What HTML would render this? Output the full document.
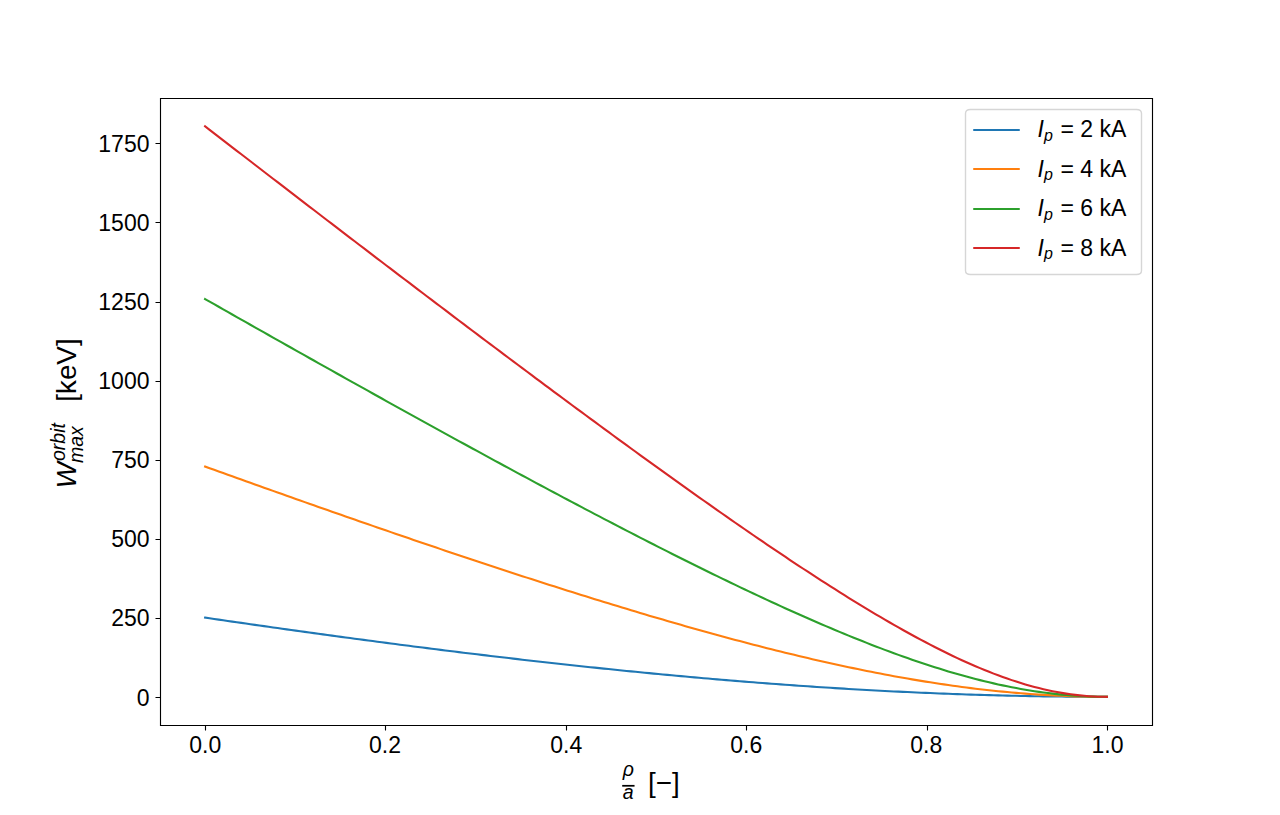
<!DOCTYPE html>
<html lang="en">
<head>
<meta charset="utf-8">
<title>W max orbit vs rho/a</title>
<style>
html,body{margin:0;padding:0;background:#fff}
body{width:1280px;height:815px;overflow:hidden;font-family:"Liberation Sans",sans-serif}
svg{display:block}
</style>
</head>
<body>
<svg width="1280" height="815" viewBox="0 0 1280 815" role="img" aria-label="Maximum orbit energy versus normalised radius for plasma currents of 2, 4, 6 and 8 kA">
<rect x="0" y="0" width="1280" height="815" fill="#fff"/>
<defs><clipPath id="axclip"><rect x="160" y="97.8" width="992" height="627.55"/></clipPath></defs>
<g clip-path="url(#axclip)" fill="none" stroke-width="2.083" stroke-linecap="square" stroke-linejoin="round">
<polyline stroke="#1f77b4" points="205.09,617.63 209.62,618.3 214.15,618.96 218.69,619.62 223.22,620.28 227.75,620.94 232.28,621.6 236.81,622.25 241.34,622.9 245.88,623.56 250.41,624.21 254.94,624.85 259.47,625.5 264,626.15 268.54,626.79 273.07,627.43 277.6,628.07 282.13,628.71 286.66,629.35 291.19,629.98 295.73,630.62 300.26,631.25 304.79,631.88 309.32,632.5 313.85,633.13 318.38,633.75 322.92,634.38 327.45,635 331.98,635.62 336.51,636.23 341.04,636.85 345.58,637.46 350.11,638.07 354.64,638.68 359.17,639.29 363.7,639.89 368.23,640.49 372.77,641.09 377.3,641.69 381.83,642.29 386.36,642.88 390.89,643.48 395.42,644.07 399.96,644.66 404.49,645.24 409.02,645.83 413.55,646.41 418.08,646.99 422.61,647.56 427.15,648.14 431.68,648.71 436.21,649.28 440.74,649.85 445.27,650.42 449.81,650.98 454.34,651.54 458.87,652.1 463.4,652.66 467.93,653.21 472.46,653.76 477,654.31 481.53,654.86 486.06,655.4 490.59,655.95 495.12,656.48 499.65,657.02 504.19,657.56 508.72,658.09 513.25,658.62 517.78,659.14 522.31,659.67 526.85,660.19 531.38,660.7 535.91,661.22 540.44,661.73 544.97,662.24 549.5,662.75 554.04,663.25 558.57,663.76 563.1,664.25 567.63,664.75 572.16,665.24 576.69,665.73 581.23,666.22 585.76,666.71 590.29,667.19 594.82,667.66 599.35,668.14 603.88,668.61 608.42,669.08 612.95,669.55 617.48,670.01 622.01,670.47 626.54,670.93 631.08,671.38 635.61,671.83 640.14,672.28 644.67,672.72 649.2,673.16 653.73,673.6 658.27,674.03 662.8,674.46 667.33,674.89 671.86,675.31 676.39,675.73 680.92,676.15 685.46,676.56 689.99,676.97 694.52,677.38 699.05,677.78 703.58,678.18 708.12,678.57 712.65,678.97 717.18,679.36 721.71,679.74 726.24,680.12 730.77,680.5 735.31,680.87 739.84,681.24 744.37,681.61 748.9,681.97 753.43,682.33 757.96,682.68 762.5,683.03 767.03,683.38 771.56,683.72 776.09,684.06 780.62,684.4 785.15,684.73 789.69,685.05 794.22,685.38 798.75,685.7 803.28,686.01 807.81,686.32 812.35,686.63 816.88,686.93 821.41,687.23 825.94,687.52 830.47,687.81 835,688.1 839.54,688.38 844.07,688.66 848.6,688.93 853.13,689.2 857.66,689.46 862.19,689.72 866.73,689.98 871.26,690.23 875.79,690.47 880.32,690.72 884.85,690.95 889.39,691.19 893.92,691.42 898.45,691.64 902.98,691.86 907.51,692.07 912.04,692.29 916.58,692.49 921.11,692.69 925.64,692.89 930.17,693.08 934.7,693.27 939.23,693.45 943.77,693.63 948.3,693.8 952.83,693.97 957.36,694.14 961.89,694.3 966.42,694.45 970.96,694.6 975.49,694.74 980.02,694.88 984.55,695.02 989.08,695.15 993.62,695.28 998.15,695.4 1002.68,695.51 1007.21,695.62 1011.74,695.73 1016.27,695.83 1020.81,695.93 1025.34,696.02 1029.87,696.11 1034.4,696.19 1038.93,696.27 1043.46,696.34 1048,696.4 1052.53,696.47 1057.06,696.52 1061.59,696.58 1066.12,696.62 1070.66,696.67 1075.19,696.7 1079.72,696.74 1084.25,696.76 1088.78,696.79 1093.31,696.8 1097.85,696.82 1102.38,696.82 1106.91,696.83"/>
<polyline stroke="#ff7f0e" points="205.09,466.53 209.62,468.17 214.15,469.8 218.69,471.43 223.22,473.06 227.75,474.69 232.28,476.31 236.81,477.94 241.34,479.56 245.88,481.18 250.41,482.81 254.94,484.42 259.47,486.04 264,487.66 268.54,489.27 273.07,490.88 277.6,492.49 282.13,494.1 286.66,495.71 291.19,497.31 295.73,498.92 300.26,500.52 304.79,502.12 309.32,503.72 313.85,505.31 318.38,506.91 322.92,508.5 327.45,510.09 331.98,511.68 336.51,513.26 341.04,514.85 345.58,516.43 350.11,518.01 354.64,519.59 359.17,521.17 363.7,522.74 368.23,524.31 372.77,525.88 377.3,527.45 381.83,529.01 386.36,530.57 390.89,532.13 395.42,533.69 399.96,535.24 404.49,536.8 409.02,538.35 413.55,539.89 418.08,541.44 422.61,542.98 427.15,544.52 431.68,546.06 436.21,547.59 440.74,549.12 445.27,550.65 449.81,552.18 454.34,553.7 458.87,555.22 463.4,556.73 467.93,558.25 472.46,559.76 477,561.27 481.53,562.77 486.06,564.27 490.59,565.77 495.12,567.26 499.65,568.75 504.19,570.24 508.72,571.72 513.25,573.2 517.78,574.68 522.31,576.15 526.85,577.62 531.38,579.09 535.91,580.55 540.44,582.01 544.97,583.46 549.5,584.91 554.04,586.36 558.57,587.8 563.1,589.23 567.63,590.67 572.16,592.09 576.69,593.52 581.23,594.94 585.76,596.35 590.29,597.76 594.82,599.17 599.35,600.57 603.88,601.96 608.42,603.35 612.95,604.74 617.48,606.12 622.01,607.5 626.54,608.87 631.08,610.23 635.61,611.59 640.14,612.94 644.67,614.29 649.2,615.63 653.73,616.97 658.27,618.3 662.8,619.62 667.33,620.94 671.86,622.25 676.39,623.56 680.92,624.85 685.46,626.15 689.99,627.43 694.52,628.71 699.05,629.98 703.58,631.25 708.12,632.5 712.65,633.75 717.18,635 721.71,636.23 726.24,637.46 730.77,638.68 735.31,639.89 739.84,641.09 744.37,642.29 748.9,643.48 753.43,644.66 757.96,645.83 762.5,646.99 767.03,648.14 771.56,649.28 776.09,650.42 780.62,651.54 785.15,652.66 789.69,653.76 794.22,654.86 798.75,655.95 803.28,657.02 807.81,658.09 812.35,659.14 816.88,660.19 821.41,661.22 825.94,662.24 830.47,663.25 835,664.25 839.54,665.24 844.07,666.22 848.6,667.19 853.13,668.14 857.66,669.08 862.19,670.01 866.73,670.93 871.26,671.83 875.79,672.72 880.32,673.6 884.85,674.46 889.39,675.31 893.92,676.15 898.45,676.97 902.98,677.78 907.51,678.57 912.04,679.36 916.58,680.12 921.11,680.87 925.64,681.61 930.17,682.33 934.7,683.03 939.23,683.72 943.77,684.4 948.3,685.05 952.83,685.7 957.36,686.32 961.89,686.93 966.42,687.52 970.96,688.1 975.49,688.66 980.02,689.2 984.55,689.72 989.08,690.23 993.62,690.72 998.15,691.19 1002.68,691.64 1007.21,692.07 1011.74,692.49 1016.27,692.89 1020.81,693.27 1025.34,693.63 1029.87,693.97 1034.4,694.3 1038.93,694.6 1043.46,694.88 1048,695.15 1052.53,695.4 1057.06,695.62 1061.59,695.83 1066.12,696.02 1070.66,696.19 1075.19,696.34 1079.72,696.47 1084.25,696.58 1088.78,696.67 1093.31,696.74 1097.85,696.79 1102.38,696.82 1106.91,696.83"/>
<polyline stroke="#2ca02c" points="205.09,299.04 209.62,301.62 214.15,304.19 218.69,306.77 223.22,309.34 227.75,311.91 232.28,314.48 236.81,317.05 241.34,319.62 245.88,322.18 250.41,324.75 254.94,327.31 259.47,329.88 264,332.44 268.54,335 273.07,337.56 277.6,340.12 282.13,342.67 286.66,345.23 291.19,347.78 295.73,350.33 300.26,352.88 304.79,355.43 309.32,357.98 313.85,360.53 318.38,363.07 322.92,365.61 327.45,368.15 331.98,370.69 336.51,373.23 341.04,375.77 345.58,378.3 350.11,380.84 354.64,383.37 359.17,385.9 363.7,388.43 368.23,390.95 372.77,393.48 377.3,396 381.83,398.52 386.36,401.04 390.89,403.56 395.42,406.07 399.96,408.58 404.49,411.09 409.02,413.6 413.55,416.11 418.08,418.61 422.61,421.11 427.15,423.61 431.68,426.11 436.21,428.6 440.74,431.1 445.27,433.59 449.81,436.07 454.34,438.56 458.87,441.04 463.4,443.52 467.93,446 472.46,448.47 477,450.95 481.53,453.41 486.06,455.88 490.59,458.34 495.12,460.8 499.65,463.26 504.19,465.72 508.72,468.17 513.25,470.62 517.78,473.06 522.31,475.5 526.85,477.94 531.38,480.37 535.91,482.81 540.44,485.23 544.97,487.66 549.5,490.08 554.04,492.49 558.57,494.91 563.1,497.31 567.63,499.72 572.16,502.12 576.69,504.52 581.23,506.91 585.76,509.3 590.29,511.68 594.82,514.06 599.35,516.43 603.88,518.8 608.42,521.17 612.95,523.52 617.48,525.88 622.01,528.23 626.54,530.57 631.08,532.91 635.61,535.24 640.14,537.57 644.67,539.89 649.2,542.21 653.73,544.52 658.27,546.82 662.8,549.12 667.33,551.41 671.86,553.7 676.39,555.98 680.92,558.25 685.46,560.51 689.99,562.77 694.52,565.02 699.05,567.26 703.58,569.5 708.12,571.72 712.65,573.94 717.18,576.15 721.71,578.36 726.24,580.55 730.77,582.73 735.31,584.91 739.84,587.08 744.37,589.23 748.9,591.38 753.43,593.52 757.96,595.65 762.5,597.76 767.03,599.87 771.56,601.96 776.09,604.05 780.62,606.12 785.15,608.18 789.69,610.23 794.22,612.27 798.75,614.29 803.28,616.3 807.81,618.3 812.35,620.28 816.88,622.25 821.41,624.21 825.94,626.15 830.47,628.07 835,629.98 839.54,631.88 844.07,633.75 848.6,635.62 853.13,637.46 857.66,639.29 862.19,641.09 866.73,642.88 871.26,644.66 875.79,646.41 880.32,648.14 884.85,649.85 889.39,651.54 893.92,653.21 898.45,654.86 902.98,656.48 907.51,658.09 912.04,659.67 916.58,661.22 921.11,662.75 925.64,664.25 930.17,665.73 934.7,667.19 939.23,668.61 943.77,670.01 948.3,671.38 952.83,672.72 957.36,674.03 961.89,675.31 966.42,676.56 970.96,677.78 975.49,678.97 980.02,680.12 984.55,681.24 989.08,682.33 993.62,683.38 998.15,684.4 1002.68,685.38 1007.21,686.32 1011.74,687.23 1016.27,688.1 1020.81,688.93 1025.34,689.72 1029.87,690.47 1034.4,691.19 1038.93,691.86 1043.46,692.49 1048,693.08 1052.53,693.63 1057.06,694.14 1061.59,694.6 1066.12,695.02 1070.66,695.4 1075.19,695.73 1079.72,696.02 1084.25,696.27 1088.78,696.47 1093.31,696.62 1097.85,696.74 1102.38,696.8 1106.91,696.83"/>
<polyline stroke="#d62728" points="205.09,126.33 209.62,129.82 214.15,133.32 218.69,136.82 223.22,140.32 227.75,143.81 232.28,147.31 236.81,150.8 241.34,154.29 245.88,157.79 250.41,161.28 254.94,164.77 259.47,168.26 264,171.74 268.54,175.23 273.07,178.72 277.6,182.2 282.13,185.68 286.66,189.17 291.19,192.65 295.73,196.13 300.26,199.61 304.79,203.09 309.32,206.56 313.85,210.04 318.38,213.51 322.92,216.98 327.45,220.46 331.98,223.93 336.51,227.4 341.04,230.86 345.58,234.33 350.11,237.8 354.64,241.26 359.17,244.72 363.7,248.18 368.23,251.64 372.77,255.1 377.3,258.56 381.83,262.01 386.36,265.46 390.89,268.92 395.42,272.36 399.96,275.81 404.49,279.26 409.02,282.7 413.55,286.15 418.08,289.59 422.61,293.03 427.15,296.47 431.68,299.9 436.21,303.33 440.74,306.77 445.27,310.2 449.81,313.62 454.34,317.05 458.87,320.47 463.4,323.89 467.93,327.31 472.46,330.73 477,334.15 481.53,337.56 486.06,340.97 490.59,344.37 495.12,347.78 499.65,351.18 504.19,354.58 508.72,357.98 513.25,361.37 517.78,364.77 522.31,368.15 526.85,371.54 531.38,374.92 535.91,378.3 540.44,381.68 544.97,385.06 549.5,388.43 554.04,391.79 558.57,395.16 563.1,398.52 567.63,401.88 572.16,405.23 576.69,408.58 581.23,411.93 585.76,415.27 590.29,418.61 594.82,421.95 599.35,425.28 603.88,428.6 608.42,431.93 612.95,435.25 617.48,438.56 622.01,441.87 626.54,445.17 631.08,448.47 635.61,451.77 640.14,455.06 644.67,458.34 649.2,461.62 653.73,464.9 658.27,468.17 662.8,471.43 667.33,474.69 671.86,477.94 676.39,481.18 680.92,484.42 685.46,487.66 689.99,490.88 694.52,494.1 699.05,497.31 703.58,500.52 708.12,503.72 712.65,506.91 717.18,510.09 721.71,513.26 726.24,516.43 730.77,519.59 735.31,522.74 739.84,525.88 744.37,529.01 748.9,532.13 753.43,535.24 757.96,538.35 762.5,541.44 767.03,544.52 771.56,547.59 776.09,550.65 780.62,553.7 785.15,556.73 789.69,559.76 794.22,562.77 798.75,565.77 803.28,568.75 807.81,571.72 812.35,574.68 816.88,577.62 821.41,580.55 825.94,583.46 830.47,586.36 835,589.23 839.54,592.09 844.07,594.94 848.6,597.76 853.13,600.57 857.66,603.35 862.19,606.12 866.73,608.87 871.26,611.59 875.79,614.29 880.32,616.97 884.85,619.62 889.39,622.25 893.92,624.85 898.45,627.43 902.98,629.98 907.51,632.5 912.04,635 916.58,637.46 921.11,639.89 925.64,642.29 930.17,644.66 934.7,646.99 939.23,649.28 943.77,651.54 948.3,653.76 952.83,655.95 957.36,658.09 961.89,660.19 966.42,662.24 970.96,664.25 975.49,666.22 980.02,668.14 984.55,670.01 989.08,671.83 993.62,673.6 998.15,675.31 1002.68,676.97 1007.21,678.57 1011.74,680.12 1016.27,681.61 1020.81,683.03 1025.34,684.4 1029.87,685.7 1034.4,686.93 1038.93,688.1 1043.46,689.2 1048,690.23 1052.53,691.19 1057.06,692.07 1061.59,692.89 1066.12,693.63 1070.66,694.3 1075.19,694.88 1079.72,695.4 1084.25,695.83 1088.78,696.19 1093.31,696.47 1097.85,696.67 1102.38,696.79 1106.91,696.83"/>
</g>
<g stroke="#000" stroke-width="1.111" fill="none">
<path d="M205.5 725.5V730.5M385.5 725.5V730.5M566.5 725.5V730.5M746.5 725.5V730.5M927.5 725.5V730.5M1107.5 725.5V730.5M160.5 697.5H155.5M160.5 618.5H155.5M160.5 539.5H155.5M160.5 460.5H155.5M160.5 381.5H155.5M160.5 302.5H155.5M160.5 222.5H155.5M160.5 143.5H155.5"/>
<path stroke="none" fill="#000" fill-rule="evenodd" d="M159.94 97.94H1153.06V726.06H159.94ZM161.06 99.06H1151.94V724.94H161.06Z"/>
</g>
<g font-family="Liberation Sans, sans-serif" fill="#000" stroke="none">
<text x="205.2" y="753" font-size="23" text-anchor="middle">0.0</text>
<text x="385" y="753" font-size="23" text-anchor="middle">0.2</text>
<text x="566.3" y="753" font-size="23" text-anchor="middle">0.4</text>
<text x="746.2" y="753" font-size="23" text-anchor="middle">0.6</text>
<text x="926.2" y="753" font-size="23" text-anchor="middle">0.8</text>
<text x="1107.5" y="753" font-size="23" text-anchor="middle">1.0</text>
<text x="149.5" y="705.7" font-size="23" text-anchor="end">0</text>
<text x="149.5" y="626.3" font-size="23" text-anchor="end">250</text>
<text x="149.5" y="547.2" font-size="23" text-anchor="end">500</text>
<text x="149.5" y="468.15" font-size="23" text-anchor="end">750</text>
<text x="149.5" y="389.1" font-size="23" text-anchor="end">1000</text>
<text x="149.5" y="310.05" font-size="23" text-anchor="end">1250</text>
<text x="149.5" y="231" font-size="23" text-anchor="end">1500</text>
<text x="149.5" y="151.9" font-size="23" text-anchor="end">1750</text>
<text x="628.4" y="775.9" font-size="19.5" font-style="italic" text-anchor="middle">ρ</text>
<rect x="622.2" y="784.92" width="12.34" height="1.73"/>
<text x="628.2" y="799.3" font-size="19.5" font-style="italic" text-anchor="middle">a</text>
<text x="648" y="792" font-size="27.8">[−]</text>
<text transform="translate(75.8 488.6) rotate(-90)" font-size="27.8" font-style="italic">W</text>
<text transform="translate(65.2 461) rotate(-90)" font-size="19.5" font-style="italic">orbit</text>
<text transform="translate(83.4 463.1) rotate(-90)" font-size="19.5" font-style="italic">max</text>
<text transform="translate(75.8 370.05) rotate(-90)" font-size="27.8" text-anchor="middle">[keV]</text>
</g>
<path d="M970.5 109.5H1136.5Q1141.5 109.5 1141.5 113.5V270.5Q1141.5 274.5 1136.5 274.5H970.5Q965.5 274.5 965.5 270.5V113.5Q965.5 109.5 970.5 109.5Z" fill="#fff" fill-opacity="0.8" stroke="#ccc" stroke-opacity="0.8" stroke-width="1.389" stroke-linejoin="miter"/>
<g fill="none" stroke-width="2.083" stroke-linecap="square">
<path stroke="#1f77b4" d="M974.27 130H1018.72"/>
<path stroke="#ff7f0e" d="M974.27 169H1018.72"/>
<path stroke="#2ca02c" d="M974.27 209H1018.72"/>
<path stroke="#d62728" d="M974.27 248H1018.72"/>
</g>
<g font-family="Liberation Sans, sans-serif" fill="#000" stroke="none">
<text x="1037.5" y="137" font-size="23" font-style="italic">I</text>
<text x="1044" y="140.5" font-size="16" font-style="italic">p</text>
<text x="1060.5" y="137" font-size="23">= 2 kA</text>
<text x="1037.5" y="176.55" font-size="23" font-style="italic">I</text>
<text x="1044" y="180.05" font-size="16" font-style="italic">p</text>
<text x="1060.5" y="176.55" font-size="23">= 4 kA</text>
<text x="1037.5" y="216.1" font-size="23" font-style="italic">I</text>
<text x="1044" y="219.6" font-size="16" font-style="italic">p</text>
<text x="1060.5" y="216.1" font-size="23">= 6 kA</text>
<text x="1037.5" y="255.65" font-size="23" font-style="italic">I</text>
<text x="1044" y="259.15" font-size="16" font-style="italic">p</text>
<text x="1060.5" y="255.65" font-size="23">= 8 kA</text>
</g>
</svg>
</body>
</html>
